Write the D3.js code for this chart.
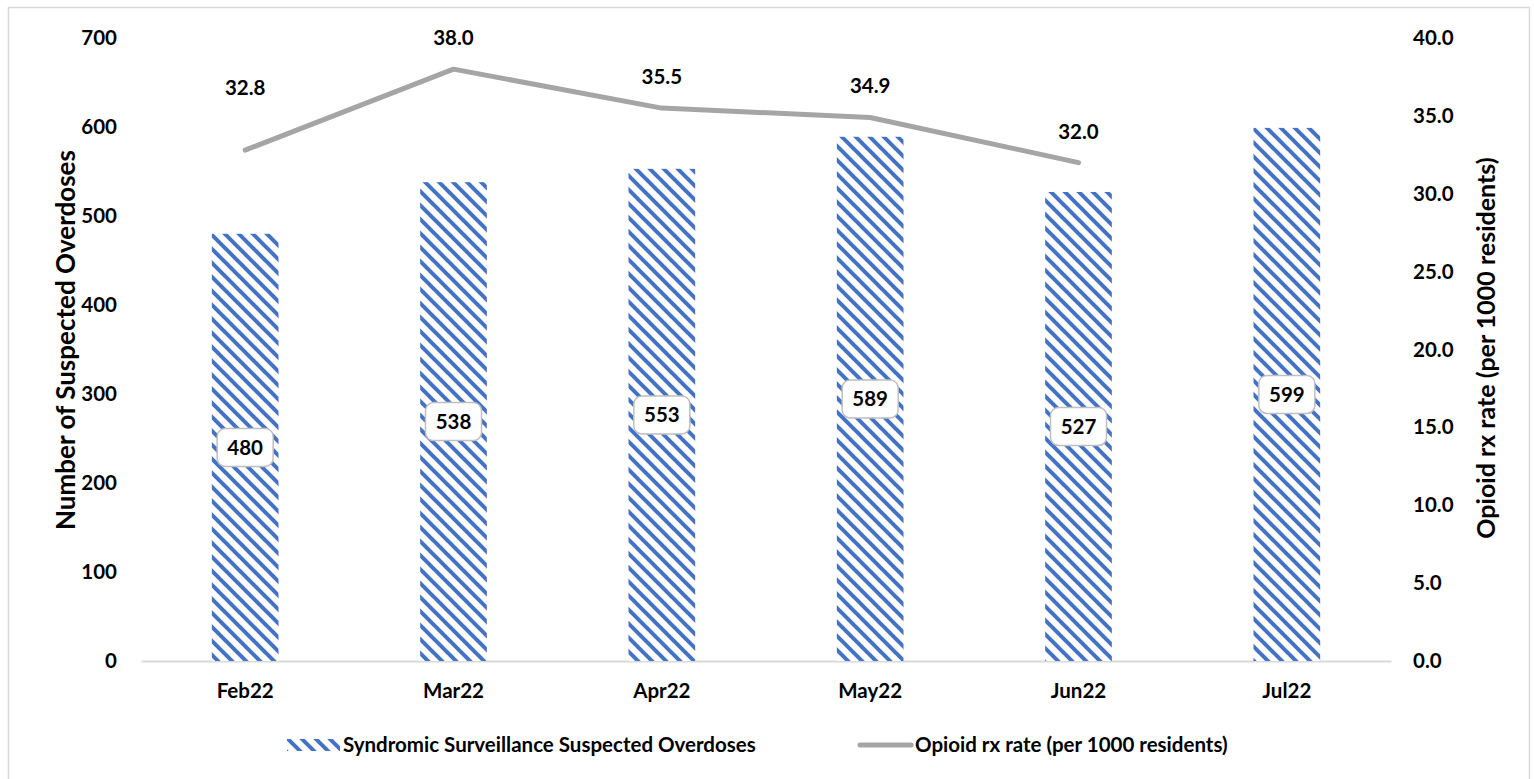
<!DOCTYPE html>
<html>
<head>
<meta charset="utf-8">
<script src="https://cdn.jsdelivr.net/npm/d3@7"></script>
<style>
  html, body { margin: 0; padding: 0; background: #fff; }
  svg text { font-family: Lato, "Open Sans", sans-serif; font-weight: bold; fill: #000; }
</style>
</head>
<body>
<script>
// Chart data
var months = ["Feb22", "Mar22", "Apr22", "May22", "Jun22", "Jul22"];
var overdoses = [480, 538, 553, 589, 527, 599];
var rxRate = [32.8, 38.0, 35.5, 34.9, 32.0, null];
var leftTicks = [0, 100, 200, 300, 400, 500, 600, 700];
var rightTicks = [0, 5, 10, 15, 20, 25, 30, 35, 40];

var svgWidth = 1534;
var svgHeight = 779;
var fontSize = "20.5px";

var margin = { top: 38, right: 143, bottom: 118, left: 141 };
var chartWidth = svgWidth - margin.left - margin.right;
var chartHeight = svgHeight - margin.top - margin.bottom;

var svg = d3.select("body")
  .append("svg")
  .attr("width", svgWidth)
  .attr("height", svgHeight);

// diagonal stripe pattern
var tile = 14;
var defs = svg.append("defs");
var pat = defs.append("pattern")
  .attr("id", "stripes")
  .attr("patternUnits", "userSpaceOnUse")
  .attr("width", tile)
  .attr("height", tile);
pat.append("rect").attr("width", tile).attr("height", tile).attr("fill", "#fff");
pat.append("path")
  .attr("d", `M-4,-4 L${tile + 4},${tile + 4} M-4,${tile - 4} L4,${tile + 4} M${tile - 4},-4 L${tile + 4},4`)
  .attr("stroke", "#4472C4")
  .attr("stroke-width", 4);

// outer frame
svg.append("rect")
  .attr("x", 8.5).attr("y", 7.5)
  .attr("width", 1521).attr("height", 790)
  .attr("fill", "none")
  .attr("stroke", "#d9d9d9")
  .attr("stroke-width", 1.5);

var chartGroup = svg.append("g")
  .attr("transform", `translate(${margin.left}, ${margin.top})`);

var xScale = d3.scaleBand()
  .domain(months)
  .range([0, chartWidth])
  .paddingInner(0.68)
  .paddingOuter(0.34);

var yLeft = d3.scaleLinear().domain([0, 700]).range([chartHeight, 0]);
var yRight = d3.scaleLinear().domain([0, 40]).range([chartHeight, 0]);

// left axis
var leftAxis = d3.axisLeft(yLeft).tickValues(leftTicks).tickSize(0).tickPadding(24);
var gl = chartGroup.append("g").call(leftAxis);
gl.select(".domain").remove();
gl.selectAll("text").style("font-size", fontSize);

// right axis
var rightAxis = d3.axisRight(yRight).tickValues(rightTicks).tickSize(0)
  .tickPadding(22).tickFormat(d3.format(".1f"));
var gr = chartGroup.append("g")
  .attr("transform", `translate(${chartWidth}, 0)`)
  .call(rightAxis);
gr.select(".domain").remove();
gr.selectAll("text").style("font-size", fontSize);

// bottom axis
var bottomAxis = d3.axisBottom(xScale).tickSize(0).tickPadding(22);
var gb = chartGroup.append("g")
  .attr("transform", `translate(0, ${chartHeight})`)
  .call(bottomAxis);
gb.select(".domain").attr("stroke", "#d9d9d9").attr("stroke-width", 2);
gb.selectAll("text").style("font-size", fontSize);

// bars
chartGroup.selectAll("rect.bar")
  .data(overdoses)
  .enter()
  .append("rect")
  .attr("class", "bar")
  .attr("x", (d, i) => xScale(months[i]))
  .attr("y", d => yLeft(d))
  .attr("width", xScale.bandwidth())
  .attr("height", d => chartHeight - yLeft(d))
  .attr("fill", "url(#stripes)");

// bar labels
var barLabels = chartGroup.selectAll("g.blabel")
  .data(overdoses)
  .enter()
  .append("g")
  .attr("class", "blabel")
  .attr("transform", (d, i) => `translate(${xScale(months[i]) + xScale.bandwidth() / 2}, ${(yLeft(d) + chartHeight) / 2})`);
barLabels.append("rect")
  .attr("x", -28).attr("y", -19)
  .attr("width", 56).attr("height", 38)
  .attr("rx", 8)
  .attr("fill", "#fff")
  .attr("stroke", "#bfbfbf")
  .attr("stroke-width", 1.5);
barLabels.append("text")
  .attr("text-anchor", "middle")
  .attr("dy", "0.36em")
  .style("font-size", fontSize)
  .text(d => d);

// rate line
var lineData = rxRate.map((v, i) => ({ m: months[i], v: v })).filter(d => d.v !== null);
var drawLine = d3.line()
  .x(d => xScale(d.m) + xScale.bandwidth() / 2)
  .y(d => yRight(d.v));
chartGroup.append("path")
  .datum(lineData)
  .attr("d", drawLine)
  .attr("fill", "none")
  .attr("stroke", "#A5A5A5")
  .attr("stroke-width", 5)
  .attr("stroke-linecap", "round")
  .attr("stroke-linejoin", "round");

chartGroup.selectAll("text.rlabel")
  .data(lineData)
  .enter()
  .append("text")
  .attr("class", "rlabel")
  .attr("text-anchor", "middle")
  .attr("x", d => xScale(d.m) + xScale.bandwidth() / 2)
  .attr("y", (d, i) => yRight(d.v) - (i === 0 ? 55 : 24))
  .style("font-size", fontSize)
  .text(d => d3.format(".1f")(d.v));

// axis titles
svg.append("text")
  .attr("transform", `translate(75, 340) rotate(-90)`)
  .attr("text-anchor", "middle")
  .style("font-size", "26px")
  .text("Number of Suspected Overdoses");

svg.append("text")
  .attr("transform", `translate(1495, 348) rotate(-90)`)
  .attr("text-anchor", "middle")
  .style("font-size", "25px")
  .text("Opioid rx rate (per 1000 residents)");

// legend
var legend = svg.append("g").attr("transform", "translate(0, 745)");
legend.append("rect")
  .attr("x", 287).attr("y", -6)
  .attr("width", 53).attr("height", 12)
  .attr("fill", "url(#stripes)");
legend.append("text")
  .attr("x", 343).attr("dy", "0.36em")
  .style("font-size", fontSize)
  .text("Syndromic Surveillance Suspected Overdoses");
legend.append("line")
  .attr("x1", 860).attr("x2", 911)
  .attr("stroke", "#A5A5A5")
  .attr("stroke-width", 5)
  .attr("stroke-linecap", "round");
legend.append("text")
  .attr("x", 915).attr("dy", "0.36em")
  .style("font-size", fontSize)
  .text("Opioid rx rate (per 1000 residents)");
</script>
</body>
</html>
